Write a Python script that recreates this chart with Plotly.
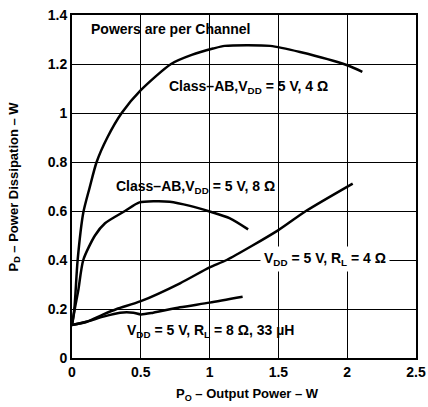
import plotly.graph_objects as go

# Class-AB, VDD = 5 V, 4 ohm
ab4_x = [0, 0.017, 0.041, 0.082, 0.128, 0.179, 0.257, 0.361, 0.5, 0.72, 0.87, 1.025, 1.11, 1.44, 1.657, 2.0, 2.11]
ab4_y = [0.135, 0.2, 0.4, 0.593, 0.695, 0.8, 0.9, 1.0, 1.093, 1.2, 1.237, 1.263, 1.274, 1.274, 1.249, 1.195, 1.168]

# Class-AB, VDD = 5 V, 8 ohm
ab8_x = [0, 0.02, 0.046, 0.082, 0.167, 0.24, 0.385, 0.49, 0.6, 0.71, 0.858, 1.0, 1.148, 1.28]
ab8_y = [0.135, 0.2, 0.277, 0.4, 0.5, 0.55, 0.6, 0.635, 0.64, 0.638, 0.621, 0.598, 0.57, 0.525]

# VDD = 5 V, RL = 4 ohm
r4_x = [0, 0.107, 0.228, 0.325, 0.5, 0.785, 1.0, 1.124, 1.5, 1.7, 2.04]
r4_y = [0.135, 0.148, 0.178, 0.2, 0.232, 0.305, 0.37, 0.4, 0.522, 0.6, 0.712]

# VDD = 5 V, RL = 8 ohm, 33 uH
r8_x = [0, 0.107, 0.228, 0.349, 0.446, 0.5, 0.59, 0.785, 1.0, 1.24]
r8_y = [0.135, 0.148, 0.169, 0.185, 0.185, 0.178, 0.185, 0.207, 0.226, 0.25]

x_ticks = [0, 0.5, 1, 1.5, 2, 2.5]
y_ticks = [0, 0.2, 0.4, 0.6, 0.8, 1, 1.2, 1.4]

FONT = "Liberation Sans, Arial, sans-serif"

fig = go.Figure()
for xs, ys in [(ab4_x, ab4_y), (ab8_x, ab8_y), (r4_x, r4_y), (r8_x, r8_y)]:
    fig.add_trace(go.Scatter(x=xs, y=ys, mode="lines",
                             line=dict(color="black", width=2.5, shape="spline", smoothing=0.7),
                             showlegend=False, hoverinfo="skip"))

labels = [
    ("Powers are per Channel", 0.109, 1.342, "left", None),
    ("Class–AB,V<sub>DD</sub> = 5 V, 4 Ω", 1.286, 1.105, "center", None),
    ("Class–AB,V<sub>DD</sub> = 5 V, 8 Ω", 0.90, 0.70, "center", None),
    ("V<sub>DD</sub> = 5 V, R<sub>L</sub> = 4 Ω", 1.84, 0.404, "center", "white"),
    ("V<sub>DD</sub> = 5 V, R<sub>L</sub> = 8 Ω, 33 µH", 1.006, 0.11, "center", None),
]
for text, x, y, xa, bg in labels:
    fig.add_annotation(x=x, y=y, text=text, showarrow=False, xanchor=xa,
                       yanchor="middle",
                       font=dict(family=FONT, size=14, color="black", weight="bold"),
                       bgcolor=bg if bg else "rgba(0,0,0,0)", borderpad=3)

# axis titles as annotations for exact placement
title_font = dict(family=FONT, size=13, color="black", weight="bold")
fig.add_annotation(xref="paper", yref="paper", x=0.5, y=0, xshift=3, yshift=-36,
                   text="P<sub>O</sub> – Output Power – W", showarrow=False,
                   xanchor="center", yanchor="middle", font=title_font)
fig.add_annotation(xref="paper", yref="paper", x=0, y=0.5, xshift=-58,
                   text="P<sub>D</sub> – Power Dissipation – W", showarrow=False,
                   textangle=-90, xanchor="center", yanchor="middle", font=title_font)

axis_common = dict(showgrid=True, gridcolor="black", gridwidth=1,
                   showline=True, linecolor="black", linewidth=2, mirror=True,
                   zeroline=False, ticks="", automargin=False,
                   tickfont=dict(family=FONT, size=14, color="black", weight="bold"))

fig.update_xaxes(range=[0, 2.5], tickvals=x_ticks, ticktext=[f"{v:g}" for v in x_ticks],
                 **axis_common)
fig.update_yaxes(range=[0, 1.4], tickvals=y_ticks, ticktext=[f"{v:g}" for v in y_ticks],
                 **axis_common)

fig.update_layout(width=428, height=407, margin=dict(l=72, r=12, t=15, b=49),
                  plot_bgcolor="white", paper_bgcolor="white")

fig.write_html("out.html", config={"displayModeBar": False},
               post_script="document.body.style.margin='0';")
